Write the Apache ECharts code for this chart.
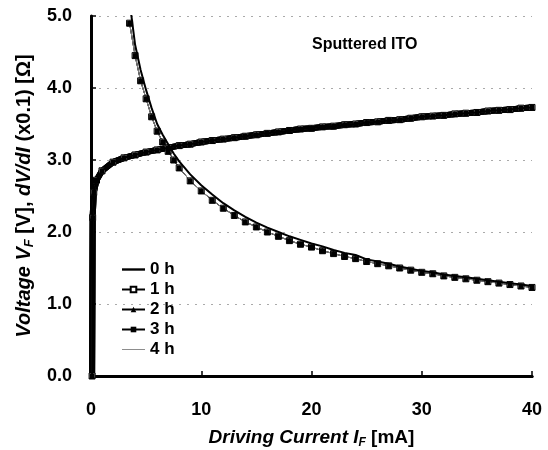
<!DOCTYPE html>
<html>
<head>
<meta charset="utf-8">
<script src="https://cdn.jsdelivr.net/npm/echarts@6/dist/echarts.min.js"></script>
<style>
  html, body { margin: 0; padding: 0; background: #fff; }
  #main { width: 548px; height: 450px; }
</style>
</head>
<body>
<div id="main"></div>
<script>
const FONT = '"Liberation Sans", Arial, sans-serif'

// forward voltage curve (same for every aging time, curves overlap)
const currentV = [0.1, 0.15, 0.25, 0.5, 1, 2, 3, 4, 5, 6, 7, 8, 9, 10, 11, 12, 13, 14, 15, 16, 17, 18, 19, 20,
  21, 22, 23, 24, 25, 26, 27, 28, 29, 30, 31, 32, 33, 34, 35, 36, 37, 38, 39, 40]
const voltage = [0, 2.2, 2.55, 2.72, 2.85, 2.97, 3.03, 3.07, 3.11, 3.14, 3.17, 3.2, 3.22, 3.25, 3.27, 3.29, 3.31,
  3.33, 3.35, 3.37, 3.39, 3.41, 3.43, 3.44, 3.46, 3.47, 3.49, 3.5, 3.52, 3.53, 3.55, 3.56, 3.58, 3.6, 3.61,
  3.62, 3.64, 3.65, 3.66, 3.68, 3.69, 3.7, 3.72, 3.73]

// differential resistance dV/dI (x0.1 ohm)
const currentR = [3.5, 4, 4.5, 5, 5.5, 6, 6.5, 7, 7.5, 8, 9, 10, 11, 12, 13, 14, 15, 16, 17, 18, 19, 20,
  21, 22, 23, 24, 25, 26, 27, 28, 29, 30, 31, 32, 33, 34, 35, 36, 37, 38, 39, 40]
const dvdi0h = [5.2, 4.6, 4.25, 3.97, 3.72, 3.5, 3.35, 3.22, 3.09, 2.98, 2.8, 2.65, 2.52, 2.4, 2.3, 2.21, 2.13,
  2.06, 2.0, 1.94, 1.89, 1.84, 1.8, 1.75, 1.71, 1.68, 1.62, 1.59, 1.56, 1.52, 1.49, 1.46, 1.44, 1.41, 1.39,
  1.37, 1.35, 1.33, 1.31, 1.29, 1.27, 1.25]
const dvdiAged = [4.9, 4.45, 4.1, 3.85, 3.6, 3.4, 3.25, 3.12, 3.0, 2.89, 2.71, 2.57, 2.44, 2.33, 2.23, 2.14,
  2.07, 2.0, 1.94, 1.88, 1.83, 1.79, 1.74, 1.7, 1.66, 1.63, 1.59, 1.56, 1.53, 1.5, 1.47, 1.44, 1.42, 1.39,
  1.37, 1.35, 1.33, 1.31, 1.29, 1.27, 1.25, 1.23]

const legendNames = ['0 h', '1 h', '2 h', '3 h', '4 h']

const pairs = (xs, ys) => xs.map((x, i) => [x, ys[i]])

const styles = {
  '0 h': { symbol: 'none', lineStyle: { color: '#000', width: 2 }, itemStyle: { color: '#000' },
    icon: 'path://M0,0 L24,0 L24,2.5 L0,2.5 Z' },
  '1 h': { symbol: 'rect', symbolSize: 6, lineStyle: { color: '#444', width: 1 },
    itemStyle: { color: '#fff', borderColor: '#000', borderWidth: 1 } },
  '2 h': { symbol: 'triangle', symbolSize: 6, lineStyle: { color: '#222', width: 1 }, itemStyle: { color: '#000' } },
  '3 h': { symbol: 'rect', symbolSize: 5, lineStyle: { color: '#222', width: 1 }, itemStyle: { color: '#000' } },
  '4 h': { symbol: 'none', lineStyle: { color: '#888', width: 1 }, itemStyle: { color: '#888' },
    icon: 'path://M0,0 L24,0 L24,1 L0,1 Z' },
}

const series = []
legendNames.forEach(function(name) {
  const { icon, ...base } = styles[name]
  const rData = name === '0 h' ? dvdi0h : dvdiAged
  // voltage branch: the overlapping markers form a thick band in the original
  const band = icon ? base.lineStyle : { color: '#000', width: 6 }
  series.push(Object.assign({
    name, type: 'line', data: pairs(currentV, voltage),
    showSymbol: base.symbol !== 'none', clip: true, animation: false,
    z: name === '0 h' ? 5 : 3,
  }, base, { lineStyle: band }))
  // dV/dI branch last so the legend takes its style from it
  series.push(Object.assign({
    name, type: 'line', data: pairs(currentR, rData),
    showSymbol: base.symbol !== 'none', clip: true, animation: false,
    z: name === '0 h' ? 5 : 3,
  }, base))
})

const labelStyle = { color: '#000', fontFamily: FONT, fontWeight: 'bold', fontSize: 18 }
const richFor = size => ({
  i: { fontFamily: FONT, fontWeight: 'bold', fontStyle: 'italic', fontSize: size, color: '#000' },
  n: { fontFamily: FONT, fontWeight: 'bold', fontSize: size, color: '#000' },
  sub: { fontFamily: FONT, fontWeight: 'bold', fontStyle: 'italic', fontSize: Math.round(size * 0.65), color: '#000',
    verticalAlign: 'bottom', padding: [Math.round(size * 0.5), 0, 0, 0] },
})

const myChart = echarts.init(document.getElementById('main'), null, { renderer: 'canvas' })
myChart.setOption({
  backgroundColor: '#fff',
  grid: { left: 91, right: 16, top: 16, bottom: 74, outerBoundsMode: 'none' },
  legend: {
    data: legendNames.map(name => styles[name].icon ? { name, icon: styles[name].icon } : name),
    orient: 'vertical',
    left: 116,
    top: 256,
    itemWidth: 23,
    itemHeight: 7,
    itemGap: 3,
    textStyle: { fontFamily: FONT, fontWeight: 'bold', fontSize: 17, color: '#000' },
  },
  graphic: [{
    type: 'text',
    left: 312,
    top: 37,
    style: { text: 'Sputtered ITO', font: 'bold 16px ' + FONT, fill: '#000' },
  }],
  xAxis: [{
    type: 'value',
    min: 0,
    max: 40,
    interval: 10,
    name: '{i|Driving Current }{i|I}{sub|F}{n| [mA]}',
    nameLocation: 'middle',
    nameGap: 51,
    nameTextStyle: { rich: richFor(19) },
    axisLine: { lineStyle: { color: '#000', width: 3 } },
    axisTick: { inside: true, length: 5, lineStyle: { color: '#000', width: 1.5 } },
    axisLabel: Object.assign({ margin: 25, formatter: v => String(v) }, labelStyle),
    splitLine: { show: false },
  }, {
    type: 'value',
    position: 'top',
    min: 0,
    max: 40,
    axisLine: { show: true, lineStyle: { color: '#000', width: 3 } },
    axisTick: { show: false },
    axisLabel: { show: false },
    splitLine: { show: false },
  }],
  yAxis: [{
    type: 'value',
    min: 0,
    max: 5,
    interval: 1,
    name: '{i|Voltage V}{sub|F}{n| [V], }{i|dV/dI}{n| (x0.1) [Ω]}',
    nameLocation: 'middle',
    nameGap: 51,
    nameRotate: 90,
    nameTextStyle: { rich: richFor(20) },
    axisLine: { show: true, lineStyle: { color: '#000', width: 1.5 } },
    axisTick: { show: true, inside: true, length: 5, lineStyle: { color: '#000', width: 1.5 } },
    axisLabel: Object.assign({ margin: 19, formatter: v => v.toFixed(1) }, labelStyle),
    splitLine: { show: true, lineStyle: { color: '#aaa', type: [2, 6], width: 1 } },
  }, {
    type: 'value',
    position: 'right',
    min: 0,
    max: 5,
    axisLine: { show: true, lineStyle: { color: '#000', width: 3 } },
    axisTick: { show: false },
    axisLabel: { show: false },
    splitLine: { show: false },
  }],
  series,
})
</script>
</body>
</html>
